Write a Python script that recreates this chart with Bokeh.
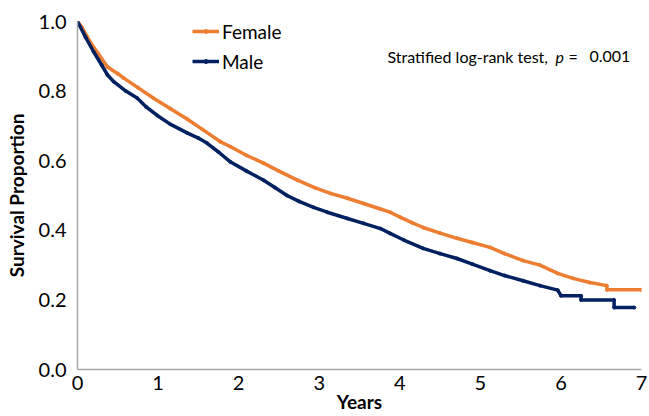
from bokeh.plotting import figure
from bokeh.models import (Range1d, FixedTicker, NumeralTickFormatter, Legend, LegendItem,
                          Label, ColumnDataSource)
from bokeh.embed import file_html
from bokeh.resources import INLINE

# ---- data ----
female_t = [0, 0.05, 0.16, 0.25, 0.37, 0.5, 0.57, 0.75, 0.94, 1.15, 1.36, 1.55, 1.77, 1.9,
            2.1, 2.31, 2.5, 2.73, 2.95, 3.14, 3.35, 3.55, 3.75, 3.88, 4.01, 4.15, 4.29, 4.5,
            4.71, 4.9, 5.12, 5.3, 5.53, 5.74, 5.96, 6.15, 6.36, 6.57, 6.57, 7.0]
female_s = [1.0, 0.985, 0.94, 0.91, 0.87, 0.85, 0.838, 0.81, 0.78, 0.75, 0.72, 0.69, 0.655, 0.64,
            0.615, 0.593, 0.57, 0.544, 0.522, 0.506, 0.492, 0.477, 0.462, 0.452, 0.437, 0.422,
            0.408, 0.392, 0.377, 0.365, 0.351, 0.333, 0.313, 0.30, 0.276, 0.262, 0.25, 0.241,
            0.229, 0.229]

male_t = [0, 0.1, 0.2, 0.3, 0.37, 0.45, 0.6, 0.74, 0.85, 0.99, 1.15, 1.36, 1.5, 1.61, 1.75,
          1.9, 2.1, 2.31, 2.45, 2.6, 2.75, 2.93, 3.1, 3.35, 3.55, 3.76, 3.88, 4.05, 4.29, 4.5,
          4.71, 4.9, 5.12, 5.3, 5.53, 5.74, 5.96, 6.0, 6.25, 6.25, 6.66, 6.66, 6.91]
male_s = [1.0, 0.955, 0.913, 0.875, 0.847, 0.827, 0.80, 0.78, 0.755, 0.73, 0.705, 0.68, 0.665,
          0.65, 0.625, 0.596, 0.57, 0.544, 0.523, 0.50, 0.483, 0.466, 0.452, 0.434, 0.42, 0.405,
          0.391, 0.372, 0.348, 0.333, 0.319, 0.303, 0.284, 0.27, 0.255, 0.241, 0.228, 0.212,
          0.212, 0.20, 0.20, 0.178, 0.178]

x_ticks = [0, 1, 2, 3, 4, 5, 6, 7]
y_ticks = [0.0, 0.2, 0.4, 0.6, 0.8, 1.0]

ORANGE = "#ED7D31"
NAVY = "#002060"
FONT = "Lato"

p = figure(width=649, height=416, output_backend="svg", toolbar_location=None,
           x_range=Range1d(0, 7), y_range=Range1d(0, 1))
p.min_border_left = 77
p.min_border_right = 8
p.min_border_top = 21
p.min_border_bottom = 47
p.outline_line_color = None
p.xgrid.visible = False
p.ygrid.visible = False
p.background_fill_color = "white"
p.border_fill_color = "white"

fsrc = ColumnDataSource(dict(t=female_t, s=female_s))
msrc = ColumnDataSource(dict(t=male_t, s=male_s))

fl = p.line("t", "s", source=fsrc, line_color=ORANGE, line_width=3.5)
fm = p.scatter("t", "s", source=fsrc, size=3, fill_color=ORANGE, line_color=ORANGE)
ml = p.line("t", "s", source=msrc, line_color=NAVY, line_width=3.5)
mm = p.scatter("t", "s", source=msrc, size=3, fill_color=NAVY, line_color=NAVY)

for ax in (p.xaxis[0], p.yaxis[0]):
    ax.axis_line_color = "#A6A6A6"
    ax.axis_line_width = 1.5
    ax.major_tick_line_color = None
    ax.minor_tick_line_color = None
    ax.major_label_text_font = FONT
    ax.major_label_text_font_size = "20px"
    ax.major_label_text_color = "#000000"
    ax.axis_label_text_font = FONT
    ax.axis_label_text_font_style = "bold"
    ax.axis_label_text_font_size = "19px"
    ax.axis_label_text_color = "#000000"

p.xaxis.ticker = FixedTicker(ticks=x_ticks)
p.yaxis.ticker = FixedTicker(ticks=y_ticks)
p.yaxis.formatter = NumeralTickFormatter(format="0.0")
p.xaxis.axis_label = "Years"
p.yaxis.axis_label = "Survival Proportion"
p.xaxis.major_label_standoff = 0
p.yaxis.major_label_standoff = 5
p.xaxis.axis_label_standoff = -3
p.yaxis.axis_label_standoff = 8

legend = Legend(items=[LegendItem(label="Female", renderers=[fl, fm]),
                       LegendItem(label="Male", renderers=[ml, mm])],
                location=(115, 296.5))
legend.border_line_color = None
legend.background_fill_alpha = 0
legend.padding = 0
legend.margin = 0
legend.spacing = 7
legend.glyph_width = 27
legend.glyph_height = 10
legend.label_height = 22
legend.label_standoff = 3
legend.label_text_font = FONT
legend.label_text_font_size = "19px"
legend.label_text_color = "#000000"
p.add_layout(legend)

common = dict(x_units="screen", y_units="screen", text_font=FONT, text_font_size="16px",
              text_color="#000000", text_baseline="alphabetic")
p.add_layout(Label(x=310, y=312.8, text="Stratified log-rank test,", **common))
p.add_layout(Label(x=478, y=312.8, text="p", text_font_style="italic", **common))
p.add_layout(Label(x=491, y=312.8, text="=", **common))
p.add_layout(Label(x=512, y=312.8, text="0.001", **common))

open("out.html", "w").write(file_html(p, INLINE))
